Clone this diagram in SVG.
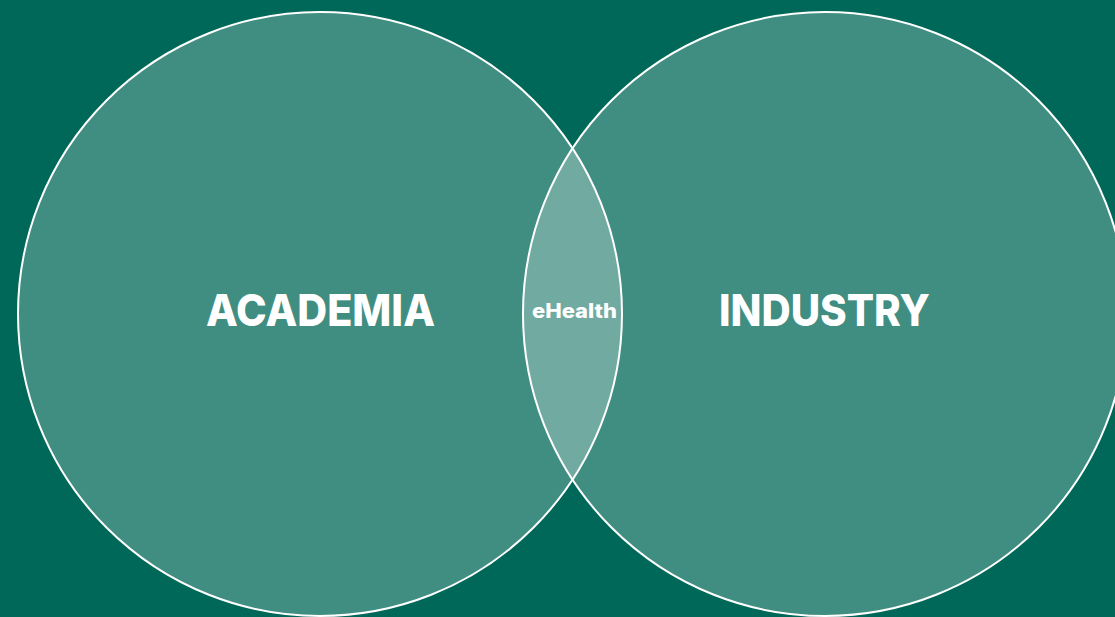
<svg xmlns="http://www.w3.org/2000/svg" width="1115" height="617" viewBox="0 0 1115 617">
<style>
.c{fill:#ffffff;fill-opacity:0.25;stroke:#ffffff;stroke-width:2}
.big{font-family:Inter,"Open Sans","Liberation Sans",sans-serif;font-weight:800;font-size:44px;fill:#ffffff;text-anchor:middle}
.small{font-family:Inter,"Open Sans","Liberation Sans",sans-serif;font-weight:800;font-size:20px;fill:#ffffff;text-anchor:middle}
</style>
<rect width="1115" height="617" fill="#006858"/>
<g id="academia">
<circle class="c" cx="320" cy="314" r="302"/>
<text class="big" x="320.5" y="326" textLength="229" lengthAdjust="spacingAndGlyphs">ACADEMIA</text>
</g>
<g id="industry">
<circle class="c" cx="825" cy="314" r="302"/>
<text class="big" x="824.5" y="326" textLength="211" lengthAdjust="spacingAndGlyphs">INDUSTRY</text>
</g>
<g id="ehealth">
<text class="small" x="574.5" y="318" textLength="85" lengthAdjust="spacingAndGlyphs">eHealth</text>
</g>
<g id="connectors"></g>
</svg>
